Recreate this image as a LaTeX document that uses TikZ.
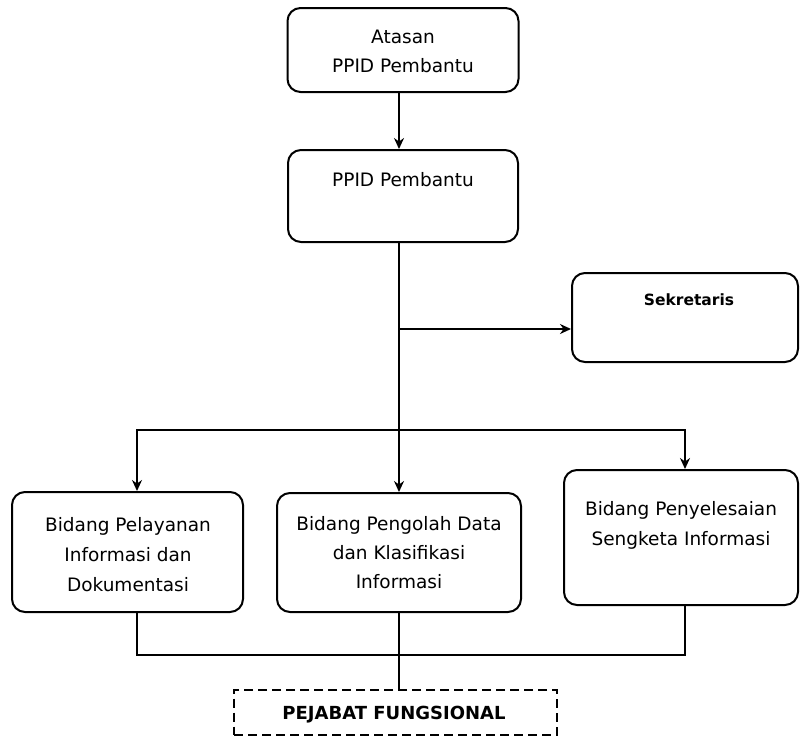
\documentclass[tikz,border=0pt]{standalone}
\usepackage{fontspec}
\setmainfont{DejaVu Sans}
\usetikzlibrary{arrows.meta}
\begin{document}
\begin{tikzpicture}[x=1pt,y=-1pt,
  box/.style={draw, line width=2pt, rounded corners=13pt, inner sep=0pt},
  dbox/.style={draw, line width=2pt, dashed, dash pattern=on 9pt off 5pt, inner sep=0pt},
  txt/.style={font=\fontsize{18.5}{29}\selectfont, align=center, inner sep=0pt},
  arr/.style={-{Stealth[length=11pt,width=10pt]}, line width=1.8pt},
  ln/.style={line width=1.8pt}]
\useasboundingbox (0,0) rectangle (800,736);
% boxes
\node[box, minimum width=231pt, minimum height=84pt] (atasan) at (403,50) {};
\node[box, minimum width=230pt, minimum height=92pt] (ppid) at (403,196) {};
\node[box, minimum width=226pt, minimum height=89pt] (sek) at (685,317.5) {};
\node[box, minimum width=231pt, minimum height=120pt] (left) at (127.5,552) {};
\node[box, minimum width=244pt, minimum height=119pt] (mid) at (399,552.5) {};
\node[box, minimum width=234pt, minimum height=135pt] (right) at (681,537.5) {};
\node[dbox, minimum width=323pt, minimum height=45pt] (fung) at (395.5,712) {};
% texts
\node[txt] (tatasan) at (403,51) {Atasan\\PPID Pembantu};
\node[txt] (tppid) at (403,180) {PPID Pembantu};
\node[txt, font=\bfseries\fontsize{15.5}{18}\selectfont] (tsek) at (689,300) {Sekretaris};
\node[txt, font=\fontsize{18.5}{30}\selectfont] (tleft) at (128,555) {Bidang Pelayanan\\Informasi dan\\Dokumentasi};
\node[txt] (tmid) at (399,553) {Bidang Pengolah Data\\dan Klasifikasi\\Informasi};
\node[txt, font=\fontsize{18.5}{30}\selectfont] (tright) at (681,525) {Bidang Penyelesaian\\Sengketa Informasi};
\node[txt, font=\bfseries\fontsize{18}{20}\selectfont] (tfung) at (394,715) {PEJABAT FUNGSIONAL};
% coordinates
\coordinate (trunk) at (399,0);
\coordinate (sj) at (399,329);
\coordinate (bj) at (399,430);
\coordinate (cl) at (137,430);
\coordinate (cr) at (685,430);
\coordinate (bl) at (137,655);
\coordinate (br) at (685,655);
% connectors
\draw[arr] (atasan.south -| trunk) -- (ppid.north -| trunk);
\draw[arr] (ppid.south -| trunk) -- (mid.north -| trunk);
\draw[arr] (sj) -- (sj -| sek.west);
\draw[arr] (bj) -- (cl) -- (left.north -| cl);
\draw[arr] (bj) -- (cr) -- (right.north -| cr);
\draw[ln] (left.south -| bl) -- (bl) -- (br) -- (right.south -| br);
\draw[ln] (mid.south -| trunk) -- (fung.north -| trunk);
\end{tikzpicture}
\end{document}
